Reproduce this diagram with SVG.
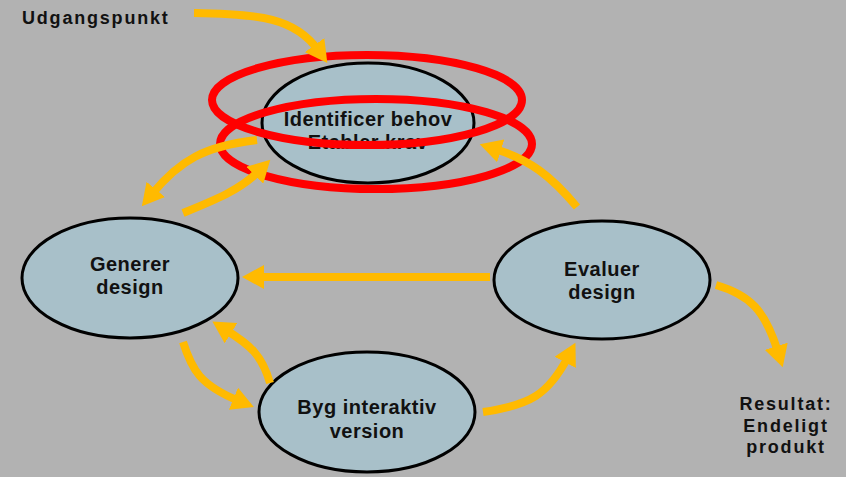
<svg xmlns="http://www.w3.org/2000/svg" width="846" height="477" viewBox="0 0 846 477">
<defs>
<style>
.node{fill:#A8C0C9;stroke:#000;stroke-width:3}
.lbl{font-family:"Liberation Sans",Arial,sans-serif;font-weight:bold;font-size:20px;letter-spacing:0.5px;fill:#111;text-anchor:middle}
.side{font-family:"Liberation Sans",Arial,sans-serif;font-weight:bold;font-size:18px;letter-spacing:1.8px;fill:#111}
.arr{fill:none;stroke:#FFBA00;stroke-width:8;marker-end:url(#ah)}
.red{fill:none;stroke:#FF0000;stroke-width:8}
</style>
<marker id="ah" markerUnits="userSpaceOnUse" markerWidth="24" markerHeight="24" refX="6" refY="12" orient="auto">
<path d="M0,0 L22,12 L0,24 z" fill="#FFBA00"/>
</marker>
</defs>
<rect width="846" height="477" fill="#B2B2B2"/>
<text class="side" x="22" y="24">Udgangspunkt</text>
<g id="identificer">
<ellipse class="node" cx="368" cy="123" rx="106" ry="60"/>
<text class="lbl" x="368" y="126">Identificer behov</text>
<text class="lbl" x="368" y="149">Etabler krav</text>
</g>
<g id="marking">
<ellipse class="red" cx="367" cy="100" rx="155" ry="45"/>
<ellipse class="red" cx="376" cy="144" rx="156" ry="45"/>
</g>
<g id="generer">
<ellipse class="node" cx="130" cy="278" rx="108" ry="60"/>
<text class="lbl" x="130" y="271">Generer</text>
<text class="lbl" x="130" y="294">design</text>
</g>
<g id="evaluer">
<ellipse class="node" cx="602" cy="280" rx="108" ry="59"/>
<text class="lbl" x="602" y="276">Evaluer</text>
<text class="lbl" x="602" y="299">design</text>
</g>
<g id="byg">
<ellipse class="node" cx="367" cy="412" rx="108" ry="60"/>
<text class="lbl" x="367" y="414">Byg interaktiv</text>
<text class="lbl" x="367" y="438">version</text>
</g>
<g id="resultat">
<text class="side" x="786" y="410" text-anchor="middle">Resultat:</text>
<text class="side" x="786" y="432" text-anchor="middle">Endeligt</text>
<text class="side" x="786" y="453" text-anchor="middle">produkt</text>
</g>
<g id="connectors">
<path class="arr" d="M194,13 C260,14 295,18 318,50"/>
<path class="arr" d="M257,140 C205,146 180,160 152,194"/>
<path class="arr" d="M183,213 C215,200 240,190 259,171"/>
<path class="arr" d="M577,207 C550,175 530,160 495,149"/>
<path class="arr" d="M490,277 L258,277"/>
<path class="arr" d="M183,342 C192,370 200,385 239,401"/>
<path class="arr" d="M270,383 C262,355 250,345 226,330"/>
<path class="arr" d="M483,412 C530,405 548,395 568,357"/>
<path class="arr" d="M716,285 C750,295 765,310 778,352"/>
</g>
</svg>
